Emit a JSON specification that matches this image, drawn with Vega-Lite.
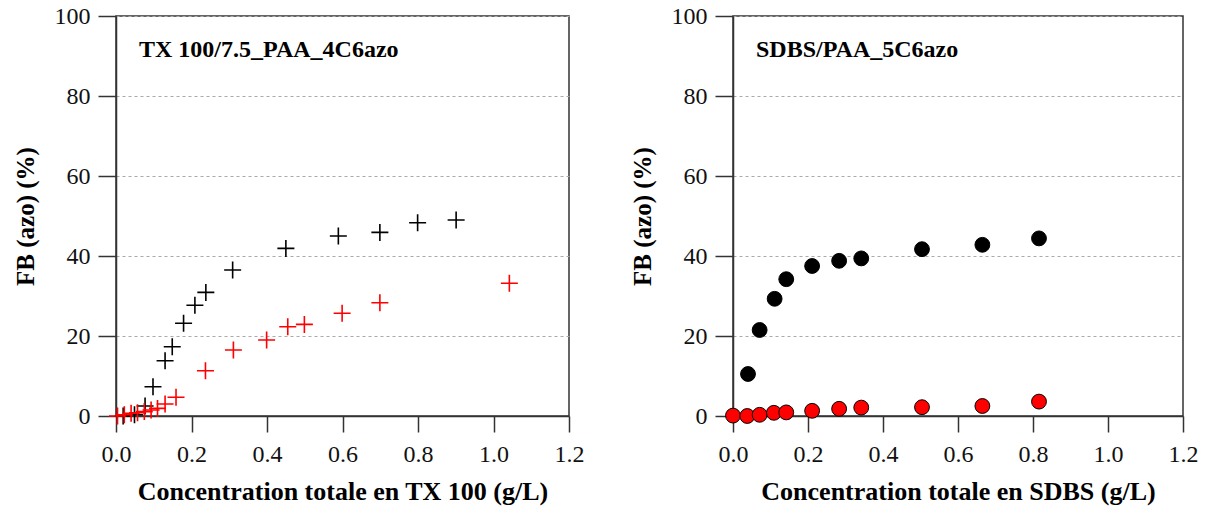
{
  "$schema": "https://vega.github.io/schema/vega-lite/v6.json",
  "background": "white",
  "padding": {"left": 12, "top": 3, "right": 5, "bottom": 5},
  "spacing": 44,
  "datasets": {
    "tx": [
      {"serie": "noir", "c": 0.019, "fb": 0.0},
      {"serie": "noir", "c": 0.049, "fb": 0.3},
      {"serie": "noir", "c": 0.077, "fb": 2.5},
      {"serie": "noir", "c": 0.098, "fb": 7.3},
      {"serie": "noir", "c": 0.130, "fb": 13.8},
      {"serie": "noir", "c": 0.149, "fb": 17.3},
      {"serie": "noir", "c": 0.179, "fb": 23.2},
      {"serie": "noir", "c": 0.209, "fb": 27.7},
      {"serie": "noir", "c": 0.238, "fb": 30.9},
      {"serie": "noir", "c": 0.309, "fb": 36.5},
      {"serie": "noir", "c": 0.450, "fb": 41.9},
      {"serie": "noir", "c": 0.589, "fb": 45.0},
      {"serie": "noir", "c": 0.699, "fb": 45.9},
      {"serie": "noir", "c": 0.799, "fb": 48.3},
      {"serie": "noir", "c": 0.901, "fb": 49.0},
      {"serie": "rouge", "c": 0.004, "fb": 0.0},
      {"serie": "rouge", "c": 0.022, "fb": 0.3},
      {"serie": "rouge", "c": 0.040, "fb": 0.7},
      {"serie": "rouge", "c": 0.057, "fb": 0.8},
      {"serie": "rouge", "c": 0.075, "fb": 1.1},
      {"serie": "rouge", "c": 0.093, "fb": 1.5},
      {"serie": "rouge", "c": 0.110, "fb": 1.9},
      {"serie": "rouge", "c": 0.130, "fb": 3.0},
      {"serie": "rouge", "c": 0.159, "fb": 4.7},
      {"serie": "rouge", "c": 0.237, "fb": 11.3},
      {"serie": "rouge", "c": 0.311, "fb": 16.5},
      {"serie": "rouge", "c": 0.399, "fb": 19.0},
      {"serie": "rouge", "c": 0.455, "fb": 22.3},
      {"serie": "rouge", "c": 0.499, "fb": 22.9},
      {"serie": "rouge", "c": 0.599, "fb": 25.7},
      {"serie": "rouge", "c": 0.699, "fb": 28.3},
      {"serie": "rouge", "c": 1.042, "fb": 33.2}
    ],
    "sdbs": [
      {"serie": "noir", "c": 0.040, "fb": 10.5},
      {"serie": "noir", "c": 0.071, "fb": 21.5},
      {"serie": "noir", "c": 0.111, "fb": 29.3},
      {"serie": "noir", "c": 0.142, "fb": 34.2},
      {"serie": "noir", "c": 0.211, "fb": 37.5},
      {"serie": "noir", "c": 0.283, "fb": 38.8},
      {"serie": "noir", "c": 0.342, "fb": 39.4},
      {"serie": "noir", "c": 0.504, "fb": 41.7},
      {"serie": "noir", "c": 0.665, "fb": 42.8},
      {"serie": "noir", "c": 0.816, "fb": 44.4},
      {"serie": "rouge", "c": 0.000, "fb": 0.1},
      {"serie": "rouge", "c": 0.038, "fb": 0.0},
      {"serie": "rouge", "c": 0.071, "fb": 0.3},
      {"serie": "rouge", "c": 0.109, "fb": 0.8},
      {"serie": "rouge", "c": 0.142, "fb": 0.9},
      {"serie": "rouge", "c": 0.211, "fb": 1.3},
      {"serie": "rouge", "c": 0.283, "fb": 1.8},
      {"serie": "rouge", "c": 0.342, "fb": 2.1},
      {"serie": "rouge", "c": 0.504, "fb": 2.2},
      {"serie": "rouge", "c": 0.665, "fb": 2.5},
      {"serie": "rouge", "c": 0.816, "fb": 3.6}
    ]
  },
  "config": {
    "font": "Liberation Serif",
    "view": {"stroke": "#333", "strokeWidth": 1.5},
    "axis": {
      "domainColor": "#333", "domainWidth": 1.5,
      "tickColor": "#333", "tickWidth": 1.5,
      "labelFont": "Liberation Serif", "labelFontSize": 24, "labelColor": "#111", "labelFlush": false,
      "titleFont": "Liberation Serif", "titleFontWeight": "bold", "titleColor": "#000",
      "grid": false
    },
    "axisY": {"tickSize": 18, "labelPadding": 8, "titlePadding": 16, "titleFontSize": 25, "grid": true, "gridDash": [3, 3], "gridColor": "#aaa", "gridWidth": 1.2},
    "axisX": {"tickSize": 16, "labelPadding": 10, "titlePadding": 12, "titleFontSize": 26},
    "title": {"font": "Liberation Serif", "fontSize": 24, "fontWeight": "bold", "color": "#000", "anchor": "start", "frame": "group", "baseline": "alphabetic", "offset": -58, "dx": 23}
  },
  "hconcat": [
    {
      "width": 453, "height": 400,
      "title": "TX 100/7.5_PAA_4C6azo",
      "data": {"name": "tx"},
      "mark": {"type": "point", "shape": "M-1,0H1M0,-1V1", "filled": false, "size": 289, "strokeWidth": 1.6, "opacity": 1, "clip": false},
      "encoding": {
        "x": {"field": "c", "type": "quantitative", "scale": {"domain": [0, 1.2], "nice": false, "zero": false},
              "axis": {"values": [0, 0.2, 0.4, 0.6, 0.8, 1.0, 1.2], "format": ".1f", "title": "Concentration totale en TX 100 (g/L)"}},
        "y": {"field": "fb", "type": "quantitative", "scale": {"domain": [0, 100], "nice": false},
              "axis": {"values": [0, 20, 40, 60, 80, 100], "title": "FB (azo) (%)"}},
        "color": {"field": "serie", "type": "nominal", "scale": {"domain": ["noir", "rouge"], "range": ["#000000", "#ff0000"]}, "legend": null}
      }
    },
    {
      "width": 450, "height": 400,
      "title": "SDBS/PAA_5C6azo",
      "data": {"name": "sdbs"},
      "mark": {"type": "point", "shape": "circle", "filled": true, "size": 220, "stroke": "#000", "strokeWidth": 1, "opacity": 1, "clip": false},
      "encoding": {
        "x": {"field": "c", "type": "quantitative", "scale": {"domain": [0, 1.2], "nice": false, "zero": false},
              "axis": {"values": [0, 0.2, 0.4, 0.6, 0.8, 1.0, 1.2], "format": ".1f", "title": "Concentration totale en SDBS (g/L)"}},
        "y": {"field": "fb", "type": "quantitative", "scale": {"domain": [0, 100], "nice": false},
              "axis": {"values": [0, 20, 40, 60, 80, 100], "title": "FB (azo) (%)"}},
        "fill": {"field": "serie", "type": "nominal", "scale": {"domain": ["noir", "rouge"], "range": ["#000000", "#ff0000"]}, "legend": null}
      }
    }
  ]
}
